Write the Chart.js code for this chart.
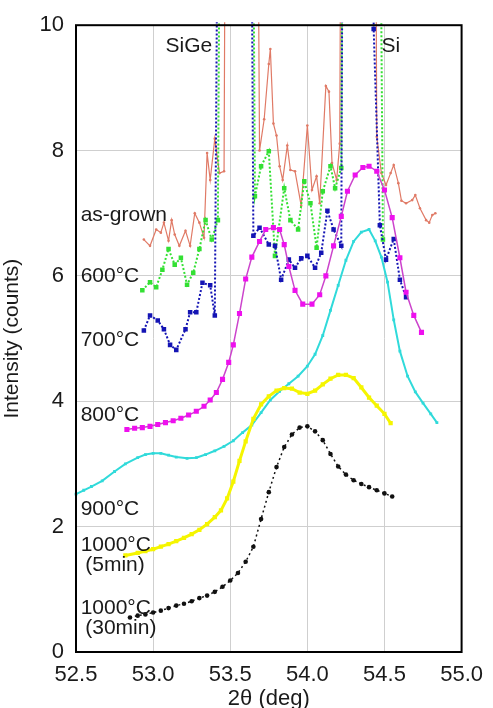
<!DOCTYPE html>
<html>
<head>
<meta charset="utf-8">
<script src="https://cdn.jsdelivr.net/npm/chart.js@4/dist/chart.umd.min.js"></script>
<style>
  body { margin: 0; background: #fff; }
  canvas { display: block; }
</style>
</head>
<body>
<canvas id="xrdChart" width="493" height="708"></canvas>
<script>
// axis ticks
const xTicks = [52.5, 53.0, 53.5, 54.0, 54.5, 55.0];
const yTicks = [0, 2, 4, 6, 8, 10];

// as-grown (peaks run off the top of the plot)
const asGrownX = [52.94, 52.98, 53.02, 53.05, 53.07, 53.10, 53.12, 53.14, 53.17, 53.21, 53.24, 53.27, 53.30, 53.33, 53.35, 53.37, 53.40, 53.43, 53.46, 53.48,
    53.66, 53.69, 53.72, 53.75, 53.76, 53.78, 53.80, 53.82, 53.84, 53.87, 53.89, 53.92, 53.96, 54.00, 54.03, 54.06, 54.08, 54.12, 54.14, 54.16, 54.19, 54.21, 54.23,
    54.43, 54.45, 54.48, 54.51, 54.54, 54.56, 54.59, 54.61, 54.64, 54.68, 54.70, 54.73, 54.77, 54.79, 54.81, 54.83];
const asGrownY = [6.58, 6.48, 6.74, 6.69, 6.85, 6.56, 6.89, 6.66, 6.48, 6.72, 6.48, 7.00, 6.85, 6.61, 7.96, 7.53, 8.19, 7.64, 7.67, 20,
    20, 8.00, 8.50, 9.38, 9.62, 8.43, 8.24, 7.75, 7.53, 8.08, 7.69, 7.67, 7.12, 8.40, 7.37, 7.59, 7.16, 9.03, 8.94, 7.80, 7.53, 8.11, 20,
    20, 8.22, 7.64, 7.45, 7.64, 7.77, 7.48, 7.20, 7.16, 7.21, 7.29, 7.08, 6.89, 6.85, 6.97, 7.00];

// 600°C
const c600X = [52.93, 52.98, 53.02, 53.06, 53.10, 53.14, 53.18, 53.22, 53.26, 53.30, 53.34, 53.38, 53.42, 53.45,
    53.63, 53.66, 53.70, 53.75, 53.79, 53.85, 53.89, 53.94, 53.98, 54.02, 54.06, 54.10, 54.15, 54.18, 54.22, 54.24,
    54.45, 54.49];
const c600Y = [5.77, 5.90, 5.82, 6.10, 6.43, 6.18, 6.29, 5.86, 6.05, 6.43, 6.89, 6.58, 6.89, 20,
    20, 7.27, 7.75, 7.99, 6.32, 7.40, 6.89, 6.74, 7.51, 7.16, 6.45, 7.35, 7.75, 7.40, 7.72, 20,
    20, 6.58];

// 700°C
const c700X = [52.94, 52.98, 53.03, 53.07, 53.11, 53.15, 53.21, 53.24, 53.28, 53.32, 53.37, 53.40, 53.44,
    53.62, 53.65, 53.69, 53.75, 53.79, 53.83, 53.88, 53.92, 53.96, 54.00, 54.05, 54.09, 54.13, 54.17, 54.22, 54.24,
    54.42, 54.43, 54.47, 54.51, 54.56, 54.60, 54.64];
const c700Y = [5.13, 5.37, 5.29, 5.15, 4.90, 4.82, 5.15, 5.42, 5.42, 5.89, 5.85, 5.37, 20,
    20, 6.64, 6.77, 6.50, 6.48, 5.94, 6.26, 6.13, 6.28, 6.32, 6.13, 6.37, 7.04, 6.74, 6.48, 20,
    20, 9.94, 6.81, 6.26, 6.59, 5.94, 5.66];

// 800°C
const c800X = [52.83, 52.88, 52.93, 52.98, 53.03, 53.08, 53.13, 53.18, 53.23, 53.28, 53.33, 53.37, 53.41, 53.45, 53.49, 53.52, 53.56, 53.60, 53.64, 53.69,
    53.73, 53.78, 53.82, 53.85, 53.88, 53.92, 53.97, 54.03, 54.08, 54.12, 54.17, 54.22, 54.26, 54.31, 54.36, 54.40, 54.45, 54.50, 54.55, 54.60, 54.64, 54.69, 54.74];
const c800Y = [3.55, 3.57, 3.58, 3.60, 3.63, 3.66, 3.69, 3.73, 3.78, 3.84, 3.92, 4.02, 4.14, 4.35, 4.62, 4.90, 5.40, 5.95, 6.30, 6.55,
    6.74, 6.77, 6.74, 6.50, 6.15, 5.77, 5.55, 5.55, 5.70, 6.00, 6.48, 6.95, 7.35, 7.61, 7.73, 7.75, 7.67, 7.37, 6.93, 6.29, 5.74, 5.37, 5.10];

// 900°C
const c900X = [52.50, 52.55, 52.60, 52.67, 52.75, 52.82, 52.90, 52.95, 53.00, 53.05, 53.10, 53.15, 53.22, 53.28, 53.34, 53.40, 53.46, 53.52, 53.58, 53.64,
    53.70, 53.76, 53.82, 53.88, 53.94, 54.00, 54.05, 54.10, 54.15, 54.20, 54.25, 54.30, 54.35, 54.40, 54.44, 54.48, 54.52, 54.56, 54.60, 54.65, 54.70, 54.75, 54.80, 54.84];
const c900Y = [2.52, 2.58, 2.64, 2.73, 2.88, 3.00, 3.10, 3.15, 3.17, 3.17, 3.14, 3.11, 3.09, 3.10, 3.15, 3.21, 3.28, 3.37, 3.50, 3.62,
    3.82, 4.02, 4.16, 4.28, 4.40, 4.56, 4.75, 5.05, 5.45, 5.85, 6.25, 6.55, 6.70, 6.74, 6.56, 6.30, 5.90, 5.30, 4.80, 4.40, 4.15, 3.97, 3.80, 3.66];

// 1000°C, 5 min
const c1000aX = [52.82, 52.90, 52.95, 53.00, 53.05, 53.10, 53.15, 53.20, 53.25, 53.30, 53.35, 53.40, 53.44, 53.48, 53.52, 53.56, 53.60, 53.65, 53.70, 53.75,
    53.80, 53.85, 53.90, 53.95, 54.00, 54.05, 54.10, 54.15, 54.20, 54.25, 54.30, 54.35, 54.40, 54.45, 54.50, 54.54];
const c1000aY = [1.54, 1.58, 1.61, 1.64, 1.68, 1.72, 1.77, 1.82, 1.88, 1.95, 2.04, 2.15, 2.26, 2.45, 2.72, 3.05, 3.36, 3.72, 3.95, 4.08,
    4.17, 4.21, 4.20, 4.14, 4.12, 4.17, 4.27, 4.36, 4.42, 4.42, 4.37, 4.22, 4.06, 3.93, 3.80, 3.65];

// 1000°C, 30 min
const c1000bX = [52.85, 52.90, 52.95, 53.00, 53.05, 53.10, 53.15, 53.20, 53.25, 53.30, 53.35, 53.40, 53.45, 53.50, 53.55, 53.60, 53.65, 53.70,
    53.75, 53.80, 53.85, 53.90, 53.95, 54.00, 54.05, 54.10, 54.15, 54.20, 54.25, 54.30, 54.35, 54.40, 54.45, 54.50, 54.55];
const c1000bY = [0.55, 0.58, 0.60, 0.63, 0.66, 0.70, 0.74, 0.77, 0.81, 0.86, 0.90, 0.96, 1.04, 1.14, 1.26, 1.44, 1.68, 2.12,
    2.55, 2.95, 3.27, 3.47, 3.58, 3.60, 3.52, 3.38, 3.16, 2.96, 2.83, 2.74, 2.68, 2.63, 2.58, 2.53, 2.48];

// text labels inside the plot
const labelText = ['SiGe', 'Si', 'as-grown', '600°C', '700°C', '800°C', '900°C', '1000°C', '(5min)', '1000°C', '(30min)'];
const labelX = [53.08, 54.48, 52.53, 52.53, 52.53, 52.53, 52.53, 52.53, 52.56, 52.53, 52.56];
const labelY = [9.67, 9.67, 6.97, 5.99, 4.98, 3.77, 2.28, 1.70, 1.38, 0.70, 0.38];

function toPoints(xs, ys) {
    return xs.map((x, i) => ({ x: x, y: ys[i] }));
}

function series(xs, ys, color, style) {
    return Object.assign({
        data: toPoints(xs, ys),
        showLine: true,
        borderColor: color,
        backgroundColor: color,
        pointBorderColor: color,
        pointBackgroundColor: color,
        borderWidth: 1.5,
        pointBorderWidth: 0,
        pointRadius: 2,
        tension: 0,
        clip: 3
    }, style);
}

// frame around the plot + in-plot labels
const framePlugin = {
    id: 'framePlugin',
    afterDatasetsDraw(chart) {
        const { ctx, chartArea: a, scales } = chart;
        ctx.save();
        ctx.strokeStyle = '#000';
        ctx.lineWidth = 2;
        ctx.strokeRect(a.left, a.top, a.right - a.left, a.bottom - a.top);
        ctx.font = '21px "Liberation Sans", Arial, sans-serif';
        ctx.fillStyle = '#1a1a1a';
        ctx.textBaseline = 'middle';
        ctx.textAlign = 'left';
        labelText.forEach((t, i) => {
            ctx.fillText(t, scales.x.getPixelForValue(labelX[i]), scales.y.getPixelForValue(labelY[i]));
        });
        ctx.restore();
    }
};

const tickFont = { family: '"Liberation Sans", Arial, sans-serif', size: 22 };

new Chart(document.getElementById('xrdChart'), {
    type: 'scatter',
    data: {
        datasets: [
            series(c1000bX, c1000bY, '#111111', { pointStyle: 'circle', pointRadius: 2.3, borderDash: [2, 3], borderWidth: 1.5 }),
            series(c1000aX, c1000aY, '#f5f500', { pointStyle: 'rect', pointRadius: 3, borderWidth: 3 }),
            series(c900X, c900Y, '#30dada', { pointStyle: 'rect', pointRadius: 2, borderWidth: 2 }),
            series(c800X, c800Y, '#ee10ee', { pointStyle: 'rect', pointRadius: 3.6, borderColor: '#cc44cc', borderWidth: 1.5 }),
            series(c700X, c700Y, '#1414b4', { pointStyle: 'rect', pointRadius: 3.2, borderDash: [2, 2], borderWidth: 2 }),
            series(c600X, c600Y, '#33e033', { pointStyle: 'rect', pointRadius: 3.2, borderDash: [2, 2], borderWidth: 2 }),
            series(asGrownX, asGrownY, '#e07a66', { pointStyle: 'circle', pointRadius: 1.3, borderWidth: 1.2 })
        ]
    },
    options: {
        responsive: false,
        animation: false,
        layout: { padding: { top: 21, right: 23, left: 0, bottom: 0 } },
        plugins: {
            legend: { display: false },
            tooltip: { enabled: false }
        },
        scales: {
            x: {
                type: 'linear',
                min: 52.5,
                max: 55.0,
                afterBuildTicks: axis => { axis.ticks = xTicks.map(v => ({ value: v })); },
                afterFit: axis => { axis.height = 56; },
                ticks: {
                    color: '#1a1a1a',
                    font: tickFont,
                    padding: 10,
                    maxRotation: 0,
                    callback: v => Number(v).toFixed(1)
                },
                grid: { color: '#cfcfcf', lineWidth: 1, drawTicks: false },
                border: { display: false },
                title: {
                    display: true,
                    text: '2θ (deg)',
                    color: '#1a1a1a',
                    font: tickFont,
                    padding: { top: 0, bottom: -4 }
                }
            },
            y: {
                type: 'linear',
                min: 0,
                max: 10,
                afterBuildTicks: axis => { axis.ticks = yTicks.map(v => ({ value: v })); },
                afterFit: axis => { axis.width = 76; },
                ticks: {
                    color: '#1a1a1a',
                    font: tickFont,
                    padding: 12
                },
                grid: { color: '#cfcfcf', lineWidth: 1, drawTicks: false },
                border: { display: false },
                title: {
                    display: true,
                    text: 'Intensity (counts)',
                    color: '#1a1a1a',
                    font: { family: '"Liberation Sans", Arial, sans-serif', size: 21 },
                    padding: { top: 0, bottom: 8 }
                }
            }
        }
    },
    plugins: [framePlugin]
});
</script>
</body>
</html>
